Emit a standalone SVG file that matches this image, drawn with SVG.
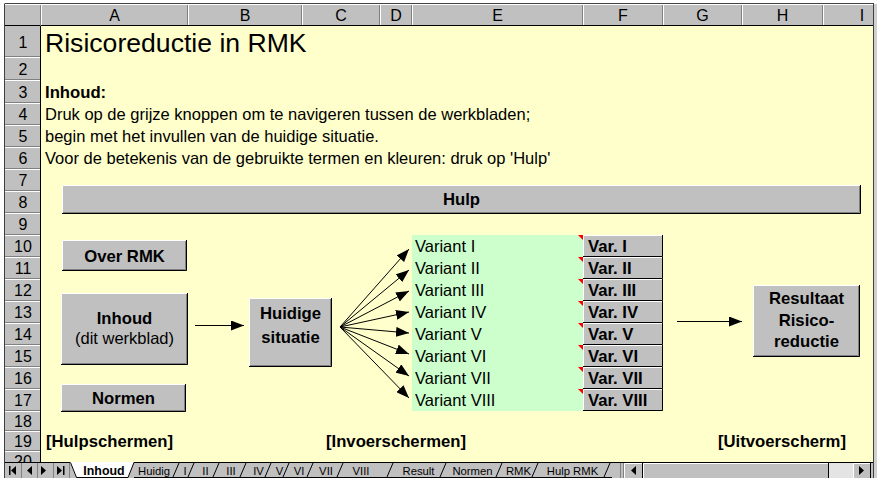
<svg xmlns="http://www.w3.org/2000/svg" width="877" height="478" viewBox="0 0 877 478">
<defs>
<marker id="ah" markerUnits="userSpaceOnUse" markerWidth="13" markerHeight="10" refX="13" refY="5" orient="auto"><path d="M0,0 L13,5 L0,10 z" fill="#000"/></marker>
</defs>
<style>
text{font-family:"Liberation Sans",Arial,sans-serif;fill:#000}
.hdr{font-size:16px;text-anchor:middle}
.body{font-size:16.5px}
.b{font-weight:bold;font-size:16.7px}
.c{text-anchor:middle}
.face{fill:#C0C0C0}
.hl{fill:none;stroke:#fff;stroke-width:1}
.sh{fill:none;stroke:#000;stroke-width:1}
.sh2{fill:none;stroke:#808080;stroke-width:1}
.gl{stroke:#808080;stroke-width:1}
.wl{stroke:#fff;stroke-width:1}
.tab{font-size:11.3px;text-anchor:middle}
.tabl{stroke:#000;stroke-width:1;fill:none}
.red{fill:#FF0000}
</style>
<rect x="0" y="0" width="877" height="478" fill="#fff"/>
<!-- sheet background -->
<rect x="41" y="26" width="832" height="436" fill="#FFFFCC"/>

<!-- column headers -->
<g id="col-headers">
<rect x="5" y="4" width="868" height="22" fill="#C0C0C0"/>
<line x1="5" y1="4.5" x2="873" y2="4.5" class="wl"/>
<line x1="5" y1="25.5" x2="873" y2="25.5" stroke="#000"/>
<g class="gl">
<line x1="40.5" y1="5" x2="40.5" y2="26"/>
<line x1="187.5" y1="5" x2="187.5" y2="25"/>
<line x1="301.5" y1="5" x2="301.5" y2="25"/>
<line x1="379.5" y1="5" x2="379.5" y2="25"/>
<line x1="411.5" y1="5" x2="411.5" y2="25"/>
<line x1="582.5" y1="5" x2="582.5" y2="25"/>
<line x1="662.5" y1="5" x2="662.5" y2="25"/>
<line x1="741.5" y1="5" x2="741.5" y2="25"/>
<line x1="822.5" y1="5" x2="822.5" y2="25"/>
</g>
<g class="wl">
<line x1="41.5" y1="5" x2="41.5" y2="25"/>
<line x1="188.5" y1="5" x2="188.5" y2="25"/>
<line x1="302.5" y1="5" x2="302.5" y2="25"/>
<line x1="380.5" y1="5" x2="380.5" y2="25"/>
<line x1="412.5" y1="5" x2="412.5" y2="25"/>
<line x1="583.5" y1="5" x2="583.5" y2="25"/>
<line x1="663.5" y1="5" x2="663.5" y2="25"/>
<line x1="742.5" y1="5" x2="742.5" y2="25"/>
<line x1="823.5" y1="5" x2="823.5" y2="25"/>
</g>
<text class="hdr" x="114.5" y="21">A</text>
<text class="hdr" x="245" y="21">B</text>
<text class="hdr" x="341" y="21">C</text>
<text class="hdr" x="396" y="21">D</text>
<text class="hdr" x="497.5" y="21">E</text>
<text class="hdr" x="623" y="21">F</text>
<text class="hdr" x="702.5" y="21">G</text>
<text class="hdr" x="782.5" y="21">H</text>
<text class="hdr" x="862" y="21">I</text>
</g>

<!-- row headers -->
<g id="row-headers">
<rect x="5" y="26" width="36" height="436" fill="#C0C0C0"/>
<line x1="40.5" y1="26" x2="40.5" y2="462" stroke="#000"/>
<g class="gl">
<line x1="5" y1="56.5" x2="40" y2="56.5"/>
<line x1="5" y1="79.5" x2="40" y2="79.5"/>
<line x1="5" y1="102.5" x2="40" y2="102.5"/>
<line x1="5" y1="124.5" x2="40" y2="124.5"/>
<line x1="5" y1="146.5" x2="40" y2="146.5"/>
<line x1="5" y1="168.5" x2="40" y2="168.5"/>
<line x1="5" y1="190.5" x2="40" y2="190.5"/>
<line x1="5" y1="212.5" x2="40" y2="212.5"/>
<line x1="5" y1="234.5" x2="40" y2="234.5"/>
<line x1="5" y1="256.5" x2="40" y2="256.5"/>
<line x1="5" y1="278.5" x2="40" y2="278.5"/>
<line x1="5" y1="300.5" x2="40" y2="300.5"/>
<line x1="5" y1="322.5" x2="40" y2="322.5"/>
<line x1="5" y1="344.5" x2="40" y2="344.5"/>
<line x1="5" y1="366.5" x2="40" y2="366.5"/>
<line x1="5" y1="388.5" x2="40" y2="388.5"/>
<line x1="5" y1="410.5" x2="40" y2="410.5"/>
<line x1="5" y1="430.5" x2="40" y2="430.5"/>
<line x1="5" y1="450.5" x2="40" y2="450.5"/>
</g>
<g class="wl">
<line x1="5" y1="57.5" x2="40" y2="57.5"/>
<line x1="5" y1="80.5" x2="40" y2="80.5"/>
<line x1="5" y1="103.5" x2="40" y2="103.5"/>
<line x1="5" y1="125.5" x2="40" y2="125.5"/>
<line x1="5" y1="147.5" x2="40" y2="147.5"/>
<line x1="5" y1="169.5" x2="40" y2="169.5"/>
<line x1="5" y1="191.5" x2="40" y2="191.5"/>
<line x1="5" y1="213.5" x2="40" y2="213.5"/>
<line x1="5" y1="235.5" x2="40" y2="235.5"/>
<line x1="5" y1="257.5" x2="40" y2="257.5"/>
<line x1="5" y1="279.5" x2="40" y2="279.5"/>
<line x1="5" y1="301.5" x2="40" y2="301.5"/>
<line x1="5" y1="323.5" x2="40" y2="323.5"/>
<line x1="5" y1="345.5" x2="40" y2="345.5"/>
<line x1="5" y1="367.5" x2="40" y2="367.5"/>
<line x1="5" y1="389.5" x2="40" y2="389.5"/>
<line x1="5" y1="411.5" x2="40" y2="411.5"/>
<line x1="5" y1="431.5" x2="40" y2="431.5"/>
<line x1="5" y1="451.5" x2="40" y2="451.5"/>
</g>
<text class="hdr" x="23" y="47.5">1</text>
<text class="hdr" x="23" y="74.5">2</text>
<text class="hdr" x="23" y="97.5">3</text>
<text class="hdr" x="23" y="120">4</text>
<text class="hdr" x="23" y="142">5</text>
<text class="hdr" x="23" y="164">6</text>
<text class="hdr" x="23" y="186">7</text>
<text class="hdr" x="23" y="208">8</text>
<text class="hdr" x="23" y="230">9</text>
<text class="hdr" x="23" y="252">10</text>
<text class="hdr" x="23" y="274">11</text>
<text class="hdr" x="23" y="296">12</text>
<text class="hdr" x="23" y="318">13</text>
<text class="hdr" x="23" y="340">14</text>
<text class="hdr" x="23" y="362">15</text>
<text class="hdr" x="23" y="384">16</text>
<text class="hdr" x="23" y="406">17</text>
<text class="hdr" x="23" y="427">18</text>
<text class="hdr" x="23" y="447">19</text>
<text class="hdr" x="23" y="467">20</text>
</g>

<!-- intro texts -->
<g id="intro">
<text x="45" y="52" style="font-size:26.6px">Risicoreductie in RMK</text>
<text x="45" y="97.5" class="b">Inhoud:</text>
<text x="45" y="120" class="body">Druk op de grijze knoppen om te navigeren tussen de werkbladen;</text>
<text x="45" y="142" class="body">begin met het invullen van de huidige situatie.</text>
<text x="45" y="164" class="body">Voor de betekenis van de gebruikte termen en kleuren: druk op 'Hulp'</text>
</g>

<g id="node-hulp">
<rect x="62" y="185" width="799" height="29" class="face"/>
<path class="sh2" d="M63,212.5 H859.5 V186"/>
<path class="sh" d="M62,213.5 H860.5 V185"/>
<path class="hl" d="M62.5,213 V185.5 H860"/>
<text x="461.5" y="205" class="b c">Hulp</text>
</g>

<g id="node-over-rmk">
<rect x="62" y="240" width="125" height="31" class="face"/>
<path class="sh2" d="M63,269.5 H185.5 V241"/>
<path class="sh" d="M62,270.5 H186.5 V240"/>
<path class="hl" d="M62.5,270 V240.5 H186"/>
<text x="124.5" y="262" class="b c">Over RMK</text>
</g>

<g id="node-inhoud">
<rect x="61" y="293" width="127" height="72" class="face"/>
<path class="sh2" d="M62,363.5 H186.5 V294"/>
<path class="sh" d="M61,364.5 H187.5 V293"/>
<path class="hl" d="M61.5,364 V293.5 H187"/>
<text x="124.5" y="324" class="b c">Inhoud</text>
<text x="124.5" y="344" class="body c">(dit werkblad)</text>
</g>

<g id="node-normen">
<rect x="61" y="384" width="125" height="28" class="face"/>
<path class="sh2" d="M62,410.5 H184.5 V385"/>
<path class="sh" d="M61,411.5 H185.5 V384"/>
<path class="hl" d="M61.5,411 V384.5 H185"/>
<text x="123.5" y="404" class="b c">Normen</text>
</g>

<g id="node-huidige">
<rect x="249" y="298" width="83" height="69" class="face"/>
<path class="sh2" d="M250,365.5 H330.5 V299"/>
<path class="sh" d="M249,366.5 H331.5 V298"/>
<path class="hl" d="M249.5,366 V298.5 H331"/>
<text x="290.5" y="319" class="b c">Huidige</text>
<text x="290.5" y="343" class="b c">situatie</text>
</g>

<g id="node-varianten">
<rect x="412" y="235" width="171" height="176" fill="#CCFFCC"/>
<text x="415" y="252" class="body">Variant I</text>
<text x="415" y="274" class="body">Variant II</text>
<text x="415" y="296" class="body">Variant III</text>
<text x="415" y="318" class="body">Variant IV</text>
<text x="415" y="340" class="body">Variant V</text>
<text x="415" y="362" class="body">Variant VI</text>
<text x="415" y="384" class="body">Variant VII</text>
<text x="415" y="406" class="body">Variant VIII</text>
<path class="red" d="M578,235 H583 V240 z M578,257 H583 V262 z M578,279 H583 V284 z M578,301 H583 V306 z M578,323 H583 V328 z M578,345 H583 V350 z M578,367 H583 V372 z M578,389 H583 V394 z"/>
</g>

<g id="node-var-buttons">
<rect x="583" y="235" width="80" height="176" class="face"/>
<g id="node-var-1"><path class="sh" d="M583,256.5 H662.5 V235"/><path class="hl" d="M583.5,256 V235.5 H662"/><text x="588" y="252" class="b">Var. I</text></g>
<g id="node-var-2"><path class="sh" d="M583,278.5 H662.5 V257"/><path class="hl" d="M583.5,278 V257.5 H662"/><text x="588" y="274" class="b">Var. II</text></g>
<g id="node-var-3"><path class="sh" d="M583,300.5 H662.5 V279"/><path class="hl" d="M583.5,300 V279.5 H662"/><text x="588" y="296" class="b">Var. III</text></g>
<g id="node-var-4"><path class="sh" d="M583,322.5 H662.5 V301"/><path class="hl" d="M583.5,322 V301.5 H662"/><text x="588" y="318" class="b">Var. IV</text></g>
<g id="node-var-5"><path class="sh" d="M583,344.5 H662.5 V323"/><path class="hl" d="M583.5,344 V323.5 H662"/><text x="588" y="340" class="b">Var. V</text></g>
<g id="node-var-6"><path class="sh" d="M583,366.5 H662.5 V345"/><path class="hl" d="M583.5,366 V345.5 H662"/><text x="588" y="362" class="b">Var. VI</text></g>
<g id="node-var-7"><path class="sh" d="M583,388.5 H662.5 V367"/><path class="hl" d="M583.5,388 V367.5 H662"/><text x="588" y="384" class="b">Var. VII</text></g>
<g id="node-var-8"><path class="sh" d="M583,410.5 H662.5 V389"/><path class="hl" d="M583.5,410 V389.5 H662"/><text x="588" y="406" class="b">Var. VIII</text></g>
</g>

<g id="node-resultaat">
<rect x="753" y="285" width="107" height="72" class="face"/>
<path class="sh2" d="M754,355.5 H858.5 V286"/>
<path class="sh" d="M753,356.5 H859.5 V285"/>
<path class="hl" d="M753.5,356 V285.5 H859"/>
<text x="806.5" y="304" class="b c">Resultaat</text>
<text x="806.5" y="326" class="b c">Risico-</text>
<text x="806.5" y="347" class="b c">reductie</text>
</g>

<g id="connectors" stroke="#000" stroke-width="1" marker-end="url(#ah)">
<line x1="195" y1="325.5" x2="244" y2="325.5"/>
<line x1="340" y1="327" x2="409" y2="249"/>
<line x1="340" y1="327" x2="409" y2="270"/>
<line x1="340" y1="327" x2="409" y2="291"/>
<line x1="340" y1="327" x2="409" y2="312"/>
<line x1="340" y1="327" x2="409" y2="333"/>
<line x1="340" y1="327" x2="409" y2="354"/>
<line x1="340" y1="327" x2="409" y2="376"/>
<line x1="340" y1="327" x2="409" y2="398"/>
<line x1="677" y1="321.5" x2="742" y2="321.5"/>
</g>

<g id="section-labels">
<text x="46" y="447" class="b">[Hulpschermen]</text>
<text x="396" y="447" class="b c">[Invoerschermen]</text>
<text x="846" y="447" class="b" text-anchor="end">[Uitvoerscherm]</text>
</g>

<!-- tab bar -->
<g id="tab-bar">
<rect x="5" y="462" width="868" height="16" fill="#C0C0C0"/>
<line x1="5" y1="462.5" x2="873" y2="462.5" stroke="#000"/>
<g id="nav-buttons">
<line x1="21.5" y1="463" x2="21.5" y2="478" class="gl"/>
<line x1="37.5" y1="463" x2="37.5" y2="478" class="gl"/>
<line x1="53.5" y1="463" x2="53.5" y2="478" class="gl"/>
<line x1="69.5" y1="463" x2="69.5" y2="478" class="gl"/>
<path d="M9,466 h1.5 v9 h-1.5 z M16,466 L11,470.5 L16,475 z M32,466 L27,470.5 L32,475 z M41,466 L46,470.5 L41,475 z M57,466 L62,470.5 L57,475 z M63,466 h1.5 v9 h-1.5 z" fill="#000"/>
</g>
<polygon points="70,462 76,477 128,477 134,462" fill="#fff"/>
<path class="tabl" d="M70.5,462.5 L76.5,477.5 H128 L134,462.5"/>
<path class="tabl" d="M134,477.5 H612"/>
<g class="tabl">
<line x1="173" y1="477" x2="179" y2="463"/>
<line x1="188" y1="477" x2="194" y2="463"/>
<line x1="213" y1="477" x2="219" y2="463"/>
<line x1="240" y1="477" x2="246" y2="463"/>
<line x1="265" y1="477" x2="271" y2="463"/>
<line x1="283" y1="477" x2="289" y2="463"/>
<line x1="307" y1="477" x2="313" y2="463"/>
<line x1="337" y1="477" x2="343" y2="463"/>
<line x1="387" y1="477" x2="393" y2="463"/>
<line x1="440" y1="477" x2="446" y2="463"/>
<line x1="496" y1="477" x2="502" y2="463"/>
<line x1="532" y1="477" x2="538" y2="463"/>
<line x1="604" y1="477" x2="610" y2="463"/>
</g>
<text class="tab" x="104" y="475" font-weight="bold" style="font-size:12.4px">Inhoud</text>
<text class="tab" x="154" y="475" fill="#333">Huidig</text>
<text class="tab" x="185" y="475" fill="#333">I</text>
<text class="tab" x="205.5" y="475" fill="#333">II</text>
<text class="tab" x="231" y="475" fill="#333">III</text>
<text class="tab" x="258.5" y="475" fill="#333">IV</text>
<text class="tab" x="279.5" y="475" fill="#333">V</text>
<text class="tab" x="299" y="475" fill="#333">VI</text>
<text class="tab" x="326" y="475" fill="#333">VII</text>
<text class="tab" x="361" y="475" fill="#333">VIII</text>
<text class="tab" x="418.5" y="475" fill="#333">Result</text>
<text class="tab" x="472.5" y="475" fill="#333">Normen</text>
<text class="tab" x="518.5" y="475" fill="#333">RMK</text>
<text class="tab" x="572.5" y="475" fill="#333">Hulp RMK</text>
<g id="hscroll">
<line x1="620.5" y1="463" x2="620.5" y2="478" class="gl"/>
<line x1="623.5" y1="463" x2="623.5" y2="478" class="gl"/>
<rect x="624" y="463" width="19" height="15" class="face"/>
<path class="hl" d="M624.5,478 V463.5 H642"/>
<path class="sh" d="M642.5,463 V478"/>
<path d="M636,466 L631,470.5 L636,475 z" fill="#000"/>
<rect x="643" y="463" width="186" height="15" class="face"/>
<path class="hl" d="M643.5,478 V463.5 H828"/>
<path class="sh" d="M828.5,463 V478"/>
<rect x="829" y="463" width="24" height="15" fill="#E4E4E4"/>
<rect x="853" y="463" width="18" height="15" class="face"/>
<path class="hl" d="M853.5,478 V463.5 H870"/>
<path class="sh" d="M870.5,463 V478"/>
<path d="M859,466 L864,470.5 L859,475 z" fill="#000"/>
</g>
</g>

<!-- window frame -->
<g id="frame">
<rect x="873" y="4" width="4" height="474" fill="#D0D0D0"/>
<line x1="873.5" y1="4" x2="873.5" y2="478" stroke="#404040"/>
<line x1="5" y1="3.5" x2="874" y2="3.5" stroke="#404040"/>
<line x1="4.5" y1="3.5" x2="4.5" y2="478" stroke="#404040"/>
</g>
</svg>
